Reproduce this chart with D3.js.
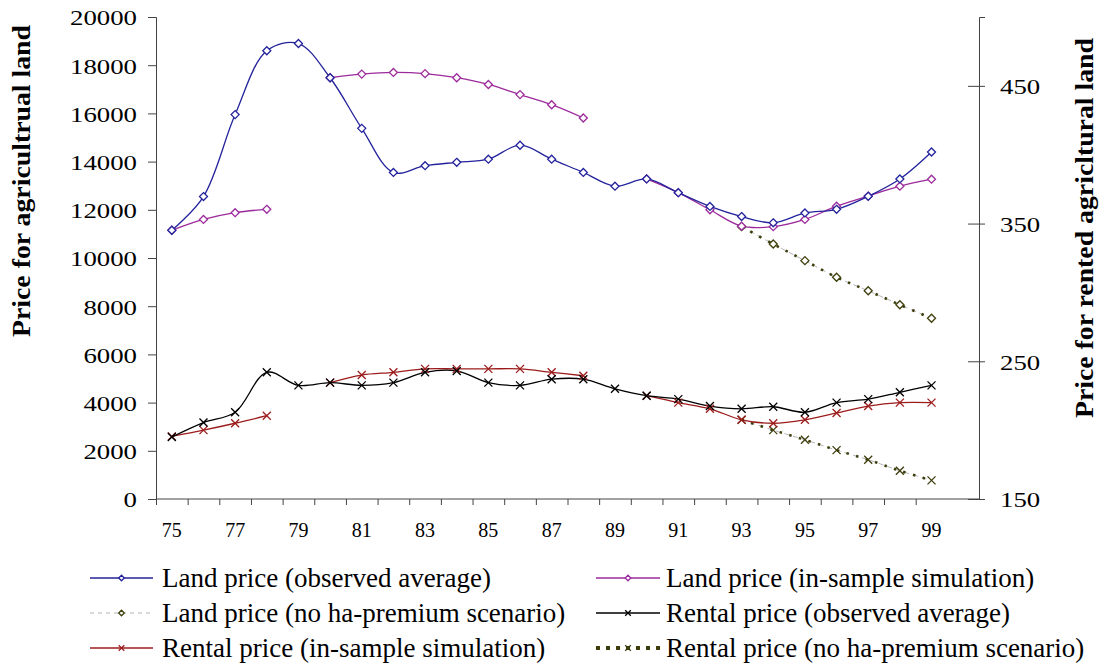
<!DOCTYPE html>
<html><head><meta charset="utf-8">
<script src="https://cdn.jsdelivr.net/npm/d3@7"></script>
<style>
html,body{margin:0;padding:0;background:#fff;}
text{font-family:"Liberation Serif","Times New Roman",serif;fill:#000;}
</style></head>
<body><svg id="c" width="1101" height="666"></svg>
<script>
// ---- data ----
const years = [75,76,77,78,79,80,81,82,83,84,85,86,87,88,89,90,91,92,93,94,95,96,97,98,99];
const xLabels = ["75","77","79","81","83","85","87","89","91","93","95","97","99"];
const leftTicks = [0,2000,4000,6000,8000,10000,12000,14000,16000,18000,20000];
const rightTicks = [150,250,350,450];

const landObserved = [11150,12550,15950,18600,18900,17480,15380,13550,13830,13970,14100,14680,14100,13550,12980,13280,12710,12140,11720,11460,11870,12020,12560,13280,14400];

const landSimYearsA = [75,76,77,78];
const landSimA = [11150,11600,11880,12020];
const landSimYearsB = [80,81,82,83,84,85,86,87,88];
const landSimB = [17480,17630,17700,17650,17480,17200,16780,16360,15810];
const landSimYearsC = [90,91,92,93,94,95,96,97,98,99];
const landSimC = [13280,12710,12000,11320,11300,11600,12150,12570,12980,13270];

const noPremYears = [93,94,95,96,97,98,99];
const landNoPrem = [11300,10580,9890,9200,8640,8060,7500];

const rentObserved = [195,205.5,213,242,232.5,234.5,232.5,234.5,242,243,234.5,232.5,237,237,230,225,222.5,217.5,215.5,217,213,220,222.5,227.5,232.5];

const rentSimA = [195.5,200,205,210.5];
const rentSimB = [234.5,240,242,244.5,244.5,244.5,244.5,242,239.5];
const rentSimC = [225,220,215.5,207.5,205,207.5,212.5,217.5,220,220];
const rentNoPrem = [207.5,200,193,185.5,178.5,170.5,163.5];

const legendLabels = [
  "Land price (observed average)","Land price (in-sample simulation)",
  "Land price (no ha-premium scenario)","Rental price (observed average)",
  "Rental price (in-sample simulation)","Rental price (no ha-premium scenario)"];

// ---- styles ----
const C = {blue:"#23239c", mag:"#9c2a9c", red:"#9c1c1c", black:"#000", olive:"#3d3d0c", grey:"#b4b4b4"};

const svg = d3.select("#c");
const x = d3.scaleLinear().domain([74.5,100.5]).range([156,979]);
const yL = d3.scaleLinear().domain([0,20000]).range([499,17]);
const yR = d3.scaleLinear().domain([150,500]).range([499,17]);

// ---- axes ----
const axisCol = "#444";
const gL = svg.append("g").attr("transform","translate(156,0)")
  .call(d3.axisLeft(yL).tickValues(leftTicks).tickSize(8).tickPadding(11).tickFormat(d3.format("d")));
gL.selectAll("text").attr("font-size",21).attr("font-family","Liberation Serif")
  .attr("textLength",d=>String(d).length*13.4).attr("lengthAdjust","spacingAndGlyphs").attr("dy","0.38em");

const gR = svg.append("g").attr("transform","translate(979,0)")
  .call(d3.axisRight(yR).tickValues(rightTicks).tickSize(6).tickPadding(15).tickFormat(d3.format("d")));
gR.selectAll(".tick line").attr("x1",-11);
gR.selectAll("text").attr("font-size",21).attr("font-family","Liberation Serif")
  .attr("textLength",d=>String(d).length*13.4).attr("lengthAdjust","spacingAndGlyphs").attr("dy","0.38em");

const gX = svg.append("g").attr("transform","translate(0,499)")
  .call(d3.axisBottom(x).tickValues(years.map(d=>d-0.5)).tickSize(6).tickFormat(""));
gX.select(".domain").attr("d","M156,0H979");
gX.selectAll(".tick line").attr("stroke",axisCol);
svg.append("g").selectAll("text").data(xLabels).join("text")
  .attr("x",d=>x(+d)).attr("y",537).attr("text-anchor","middle").attr("font-size",20).text(d=>d);

[gL,gR,gX].forEach(g=>{g.select(".domain").attr("stroke",axisCol); g.selectAll(".tick line").attr("stroke",axisCol); g.selectAll("text").attr("fill","#000");});

// axis titles
svg.append("text").attr("transform","translate(30,181) rotate(-90)")
  .attr("text-anchor","middle").attr("font-weight","bold").attr("font-size",25)
  .attr("textLength",312).attr("lengthAdjust","spacingAndGlyphs")
  .text("Price for agricultrual land");
svg.append("text").attr("transform","translate(1093,228) rotate(-90)")
  .attr("text-anchor","middle").attr("font-weight","bold").attr("font-size",25)
  .attr("textLength",380).attr("lengthAdjust","spacingAndGlyphs")
  .text("Price for rented agricltural land");

// ---- helpers ----
const zip = (ys,vs)=>ys.map((yr,i)=>({yr,v:vs[i]}));
function drawLine(data,yScale,opts){
  const line = d3.line().x(d=>x(d.yr)).y(d=>yScale(d.v)).curve(d3.curveCatmullRom.alpha(0.5));
  return svg.append("path").datum(data).attr("d",line).attr("fill","none")
    .attr("stroke",opts.color).attr("stroke-width",opts.width||1.3)
    .attr("stroke-dasharray",opts.dash||null);
}
function diamond(g,cx,cy,r,color){
  g.append("path").attr("d",`M${cx},${cy-r}L${cx+r},${cy}L${cx},${cy+r}L${cx-r},${cy}Z`)
    .attr("fill","#fff").attr("stroke",color).attr("stroke-width",1.3);
}
function cross(g,cx,cy,r,color){
  g.append("path").attr("d",`M${cx-r},${cy-r}L${cx+r},${cy+r}M${cx-r},${cy+r}L${cx+r},${cy-r}`)
    .attr("stroke",color).attr("stroke-width",1.3).attr("fill","none");
}
function drawMarkers(data,yScale,type,color){
  const g = svg.append("g");
  data.forEach(d=>{ (type==="d"?diamond:cross)(g,x(d.yr),yScale(d.v),type==="d"?4:4,color); });
}
function noPremLine(data,yScale){
  drawLine(data,yScale,{color:C.grey,width:1,dash:"5,4"});
  drawLine(data,yScale,{color:C.olive,width:2.6,dash:"2.5,7.5"});
}

// ---- series ----
const lNP = zip(noPremYears,landNoPrem), rNP = zip(noPremYears,rentNoPrem);
noPremLine(lNP,yL); noPremLine(rNP,yR);

const rSA=zip(landSimYearsA,rentSimA), rSB=zip(landSimYearsB,rentSimB), rSC=zip(landSimYearsC,rentSimC);
const rObs = zip(years,rentObserved);
[rSA,rSB,rSC].forEach(s=>drawLine(s,yR,{color:C.red}));
drawLine(rObs,yR,{color:C.black});

const lSA=zip(landSimYearsA,landSimA), lSB=zip(landSimYearsB,landSimB), lSC=zip(landSimYearsC,landSimC);
const lObs = zip(years,landObserved);
[lSA,lSB,lSC].forEach(s=>drawLine(s,yL,{color:C.mag}));
drawLine(lObs,yL,{color:C.blue});

drawMarkers(lNP,yL,"d",C.olive);
drawMarkers(rNP,yR,"x",C.olive);
[rSA,rSB,rSC].forEach(s=>drawMarkers(s,yR,"x",C.red));
drawMarkers(rObs,yR,"x",C.black);
[lSA,lSB,lSC].forEach(s=>drawMarkers(s,yL,"d",C.mag));
drawMarkers(lObs,yL,"d",C.blue);

// ---- legend ----
const lg = svg.append("g");
const rowsY = [578,613,648];
const cols = [{x0:90,x1:153,tx:162},{x0:596,x1:660,tx:666}];
const legendStyle = [
  {color:C.blue, m:"d"},{color:C.mag, m:"d"},
  {color:C.grey, m:"d", mc:C.olive, dash:"4,4", w:1},{color:C.black, m:"x"},
  {color:C.red, m:"x"},{color:C.olive, m:"x", dash:"4,6", w:4}];
legendLabels.forEach((lab,i)=>{
  const c = cols[i%2], ry = rowsY[Math.floor(i/2)], st = legendStyle[i];
  lg.append("line").attr("x1",c.x0).attr("x2",c.x1).attr("y1",ry).attr("y2",ry)
    .attr("stroke",st.color).attr("stroke-width",st.w||1.3).attr("stroke-dasharray",st.dash||null);
  const mx = (c.x0+c.x1)/2;
  if(st.m==="d") diamond(lg,mx,ry,2.8,st.mc||st.color); else cross(lg,mx,ry,2.8,st.mc||st.color);
  lg.append("text").attr("x",c.tx).attr("y",ry+9).attr("font-size",27).text(lab);
});
</script></body></html>
